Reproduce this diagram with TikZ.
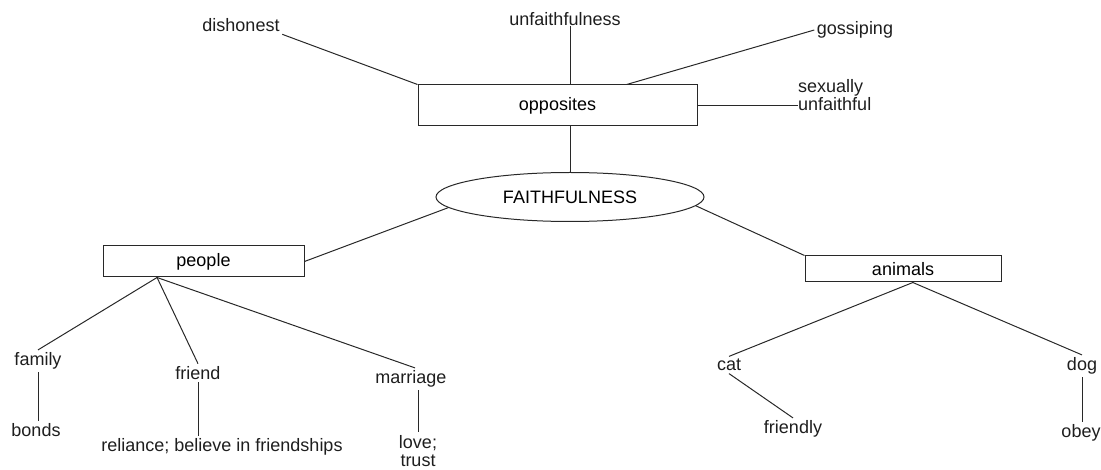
\documentclass[tikz,border=0pt]{standalone}
\usepackage{fontspec}
\setmainfont{Liberation Sans}
\usepackage{xcolor}
\usepackage{tikz}
\usetikzlibrary{shapes, positioning, calc}
\definecolor{mapline}{RGB}{40, 40, 40}
\definecolor{maptext}{RGB}{30, 30, 30}

\tikzset{
    mapbox/.style={draw=mapline, line width=1pt, rectangle, inner sep=0pt},
    mapoval/.style={draw=mapline, line width=1pt, ellipse, inner sep=0pt,
        minimum width=268, minimum height=49},
    mapword/.style={inner sep=2.5pt, text=maptext, align=center},
    maplink/.style={mapline, line width=1pt}
}

\begin{document}
\begin{tikzpicture}[x=1pt, y=-1pt, font=\fontsize{18}{18.5}\selectfont]
    \useasboundingbox (0,0) rectangle (1101,470);

    % centre and the three boxes
    \node[mapoval] (faith) at (570,197) {FAITHFULNESS};
    \node[mapbox, minimum width=279, minimum height=41] (opposites) at (557.5,105.5) {opposites};
    \node[mapbox, minimum width=201, minimum height=31] (people) at (203.5,261.5) {people};
    \node[mapbox, minimum width=196, minimum height=26] (animals) at (903,269) {animals};

    % opposites
    \node[mapword] (dishonest) at (241,25) {dishonest};
    \node[mapword, inner sep=0pt] (unfaith) at (565,19) {unfaithfulness};
    \node[mapword] (gossiping) at (855,30) {gossiping};
    \node[mapword, align=left, anchor=west, inner sep=0pt] (sexually) at (798,95) {sexually\\unfaithful};

    % people
    \node[mapword] (family) at (38,361) {family};
    \node[mapword] (bonds) at (36,430) {bonds};
    \node[mapword] (friend) at (198,373) {friend};
    \node[mapword] (reliance) at (222,447) {reliance; believe in friendships};
    \node[mapword] (marriage) at (411,379) {marriage};
    \node[mapword] (love) at (418,451) {love;\\trust};

    % animals
    \node[mapword] (cat) at (729,365) {cat};
    \node[mapword] (friendly) at (793,429) {friendly};
    \node[mapword] (dog) at (1082,366) {dog};
    \node[mapword] (obey) at (1081,433) {obey};

    \coordinate (pfork) at ($(people.south west)!0.27!(people.south east)$);
    \coordinate (afork) at ($(animals.south west)!0.55!(animals.south east)$);
    \coordinate (gfoot) at ($(opposites.north west)!0.747!(opposites.north east)$);

    % links
    \draw[maplink] (dishonest.south east) -- (opposites.north west);
    \draw[maplink] (unfaith.south -| faith.north) -- (opposites.north -| faith.north);
    \draw[maplink] (gossiping.west) -- (gfoot);
    \draw[maplink] (opposites.east) -- (opposites.east -| sexually.west);
    \draw[maplink] (opposites.south -| faith.north) -- (faith.north);

    \draw[maplink] (faith.185) -- (people.east);
    \draw[maplink] (faith.356) -- (animals.north west);

    \draw[maplink] (pfork) -- (family.north);
    \draw[maplink] (pfork) -- (friend.north);
    \draw[maplink] (pfork) -- (marriage.70);
    \draw[maplink] (family.south) -- (family.south |- bonds.north);
    \draw[maplink] (friend.south) -- (friend.south |- reliance.north);
    \draw[maplink] (love.north |- marriage.south) -- (love.north);

    \draw[maplink] (afork) -- (cat.north);
    \draw[maplink] (afork) -- (dog.north);
    \draw[maplink] (cat.south) -- (friendly.north);
    \draw[maplink] (dog.south) -- (dog.south |- obey.north);
\end{tikzpicture}
\end{document}
